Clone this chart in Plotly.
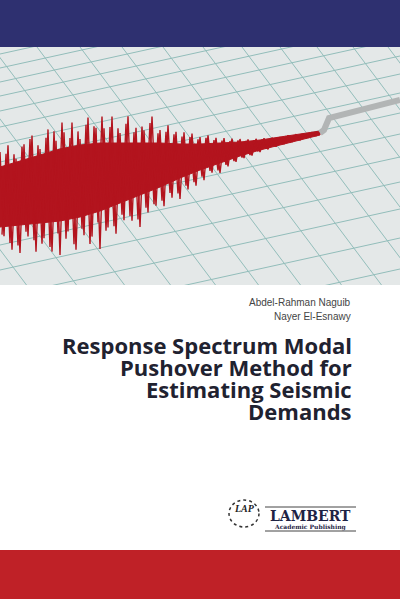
import plotly.graph_objects as go

W, H = 400, 599
# Seismograph spikes: signed offsets from centre line, one every 4 px
spikes = [-45,40,-50,55,-35,60,-48,45,-55,62,-40,
          50,-58,65,-45,70,-52,48,-60,68,-42,
          55,-62,58,-50,72,-48,52,-58,60,-40,
          48,-55,50,-42,58,-38,45,-50,40,-35,
          42,-38,35,-30,38,-28,30,-25,28,-20,
          24,-20,18,-16,20,-14,15,-12,12,-10,
          10,-8,9,-7,7,-6,6,-5,5,-4,
          4,-4,3,-3,3,-2,2,-2,2,-1]
spikes2 = [38,-42,48,-40,52,-46,40,-52,50,-44,
           55,-50,60,-55,48,-62,55,-45,62,-50,
           48,-55,65,-52,45,-60,55,-48,52,-45,
           42,-48,45,-38,50,-42,40,-44,38,-32,
           36,-32,30,-28,32,-24,26,-22,24,-18,
           20,-18,16,-14,17,-12,13,-10,11,-9,
           9,-7,8,-6,6,-5,5,-4,4,-4,
           3,-3,3,-2,2,-2,2,-1,1,-1]
core = [30, 32, 34, 36, 36, 34, 30, 26, 22, 17, 13, 10, 7, 5, 4, 3, 2]
grid_h = [40, 54, 68, 82, 96, 111, 127, 144, 162, 181, 201, 222, 245, 270, 297, 326, 357]
grid_v = [-260, -205, -152, -102, -54, -8, 37, 80, 122, 163, 203, 242, 280, 317, 353, 388, 422]
authors = ["Abdel-Rahman Naguib", "Nayer El-Esnawy"]
title = ["Response Spectrum Modal", "Pushover Method for", "Estimating Seismic", "Demands"]

RED = "#b3141e"
fig = go.Figure()
fig.add_shape(type="rect", x0=0, x1=W, y0=47, y1=285, fillcolor="#e4e8e8", line_width=0, layer="below")
for y0 in grid_h:
    fig.add_trace(go.Scatter(x=[0, W], y=[y0, y0 - 0.22 * W], mode="lines",
                             line=dict(color="#92bdba", width=1), hoverinfo="skip"))
for x0 in grid_v:
    fig.add_trace(go.Scatter(x=[x0, x0 + 0.75 * 240], y=[47, 287], mode="lines",
                             line=dict(color="#92bdba", width=1), hoverinfo="skip"))

def centre(x):
    return 197 - (64 / 320) * x

cx = [20 * i for i in range(len(core))]
up = [centre(x) - c for x, c in zip(cx, core)]
dn = [centre(x) + c for x, c in zip(cx, core)]
fig.add_trace(go.Scatter(x=cx + cx[::-1], y=up + dn[::-1], fill="toself", fillcolor=RED,
                         mode="lines", line=dict(color=RED, width=1), hoverinfo="skip"))
for sp, off in ((spikes, 0), (spikes2, 2)):
    xs = [4 * i + off for i in range(len(sp))]
    ys = [centre(x) + s for x, s in zip(xs, sp)]
    fig.add_trace(go.Scatter(x=xs, y=ys, mode="lines", line=dict(color=RED, width=1.4), hoverinfo="skip"))
fig.add_trace(go.Scatter(x=[320, 324, 329, 400], y=[133, 130, 118, 100], mode="lines",
                         line=dict(color="#b2b5b5", width=6), hoverinfo="skip"))
fig.add_shape(type="rect", x0=0, x1=W, y0=0, y1=47, fillcolor="#2e3070", line_width=0, layer="above")
fig.add_shape(type="rect", x0=0, x1=W, y0=285, y1=550, fillcolor="#ffffff", line_width=0, layer="above")
fig.add_shape(type="rect", x0=0, x1=W, y0=550, y1=H, fillcolor="#bf2127", line_width=0, layer="above")

for i, a in enumerate(authors):
    fig.add_annotation(x=353, y=302 + 14 * i, text=a, showarrow=False, xanchor="right",
                       font=dict(family="Liberation Sans", size=10, color="#444"))
for i, t in enumerate(title):
    fig.add_annotation(x=354, y=345 + 22 * i, text="<b>" + t + "</b>", showarrow=False, xanchor="right",
                       font=dict(family="Open Sans", size=22, color="#1f2230"))
# logo
fig.add_shape(type="circle", x0=229, x1=259, y0=500, y1=527, line=dict(color="#333", width=1.5, dash="dot"), layer="above")
fig.add_annotation(x=244, y=508, text="<b><i>LAP</i></b>", showarrow=False,
                   font=dict(family="Liberation Serif", size=10, color="#222"))
fig.add_shape(type="line", x0=265, x1=356, y0=507, y1=507, line=dict(color="#444", width=1), layer="above")
fig.add_shape(type="line", x0=265, x1=356, y0=531, y1=531, line=dict(color="#444", width=1), layer="above")
fig.add_annotation(x=310, y=516, text="<b>LAMBERT</b>", showarrow=False,
                   font=dict(family="DejaVu Serif", size=14, color="#1e2344"))
fig.add_annotation(x=310, y=527, text="<b>Academic Publishing</b>", showarrow=False,
                   font=dict(family="DejaVu Serif", size=6, color="#1e2344"))

fig.update_layout(width=W, height=H, margin=dict(l=0, r=0, t=0, b=0), showlegend=False,
                  paper_bgcolor="white", plot_bgcolor="white",
                  xaxis=dict(range=[0, W], visible=False, fixedrange=True),
                  yaxis=dict(range=[H, 0], visible=False, fixedrange=True))
fig.write_html("out.html", config={"displayModeBar": False},
               post_script="document.body.style.margin='0';document.body.style.overflow='hidden';")
